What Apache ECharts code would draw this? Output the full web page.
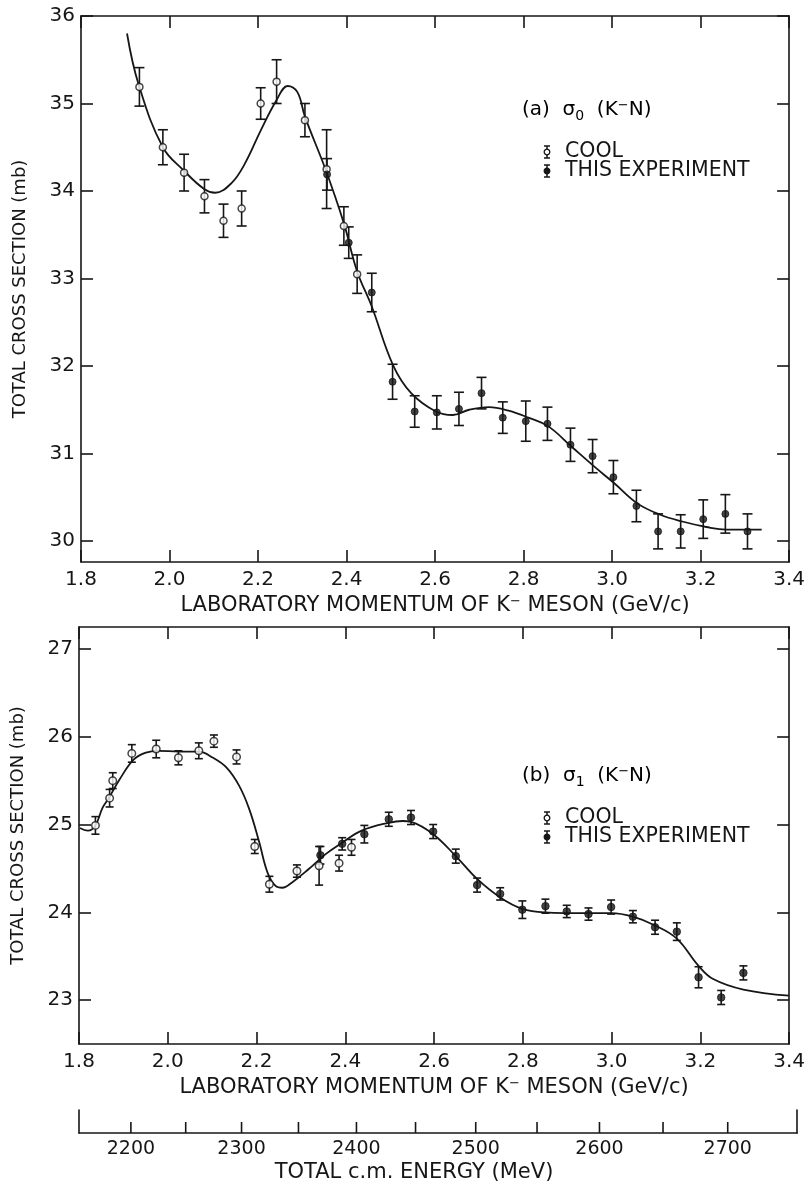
<!DOCTYPE html>
<html><head><meta charset="utf-8">
<script src="https://cdn.jsdelivr.net/npm/echarts@6/dist/echarts.min.js"></script>
<style>html,body{margin:0;padding:0;background:#fff}#c{width:808px;height:1186px}</style>
</head><body><div id="c"></div>
<script>
// ---------- DATA ----------
const xTicks = [1.8, 2.0, 2.2, 2.4, 2.6, 2.8, 3.0, 3.2, 3.4];
const sig0YTicks = [30, 31, 32, 33, 34, 35, 36];
const sig1YTicks = [23, 24, 25, 26, 27];
const energyTicks = [2200, 2250, 2300, 2350, 2400, 2450, 2500, 2550, 2600, 2650, 2700];
const energyLabels = [2200, 2300, 2400, 2500, 2600, 2700];

// (a) sigma_0
const sig0CoolX = [1.932, 1.985, 2.033, 2.079, 2.122, 2.163, 2.206, 2.242, 2.306, 2.355, 2.394, 2.424];
const sig0CoolY = [35.19, 34.50, 34.21, 33.94, 33.66, 33.80, 35.00, 35.25, 34.81, 34.25, 33.60, 33.05];
const sig0CoolErr = [0.22, 0.20, 0.21, 0.19, 0.19, 0.20, 0.18, 0.25, 0.19, 0.45, 0.22, 0.22];
const sig0ExpX = [2.356, 2.405, 2.457, 2.504, 2.554, 2.604, 2.654, 2.705, 2.753, 2.805, 2.854, 2.906, 2.956, 3.003, 3.055, 3.104, 3.155, 3.206, 3.256, 3.306];
const sig0ExpY = [34.19, 33.41, 32.84, 31.82, 31.48, 31.47, 31.51, 31.69, 31.41, 31.37, 31.34, 31.10, 30.97, 30.73, 30.40, 30.11, 30.11, 30.25, 30.31, 30.11];
const sig0ExpErr = [0.18, 0.18, 0.22, 0.20, 0.18, 0.19, 0.19, 0.18, 0.18, 0.23, 0.19, 0.19, 0.19, 0.19, 0.18, 0.20, 0.19, 0.22, 0.22, 0.20];
const sig0CurveX = [1.904, 1.93, 1.985, 2.033, 2.079, 2.103, 2.14, 2.17, 2.206, 2.242, 2.267, 2.289, 2.306, 2.353, 2.394, 2.424, 2.457, 2.505, 2.546, 2.602, 2.64, 2.677, 2.722, 2.766, 2.811, 2.856, 2.908, 2.96, 3.005, 3.057, 3.109, 3.161, 3.213, 3.258, 3.338];
const sig0CurveY = [35.80, 35.22, 34.50, 34.23, 34.02, 33.98, 34.09, 34.31, 34.69, 35.04, 35.20, 35.13, 34.85, 34.24, 33.63, 33.08, 32.68, 32.01, 31.69, 31.48, 31.44, 31.50, 31.53, 31.49, 31.41, 31.31, 31.08, 30.85, 30.66, 30.43, 30.30, 30.22, 30.16, 30.13, 30.13];

// (b) sigma_1
const sig1CoolX = [1.837, 1.869, 1.876, 1.919, 1.974, 2.024, 2.070, 2.104, 2.155, 2.196, 2.229, 2.291, 2.341, 2.386, 2.414];
const sig1CoolY = [24.99, 25.30, 25.50, 25.81, 25.86, 25.76, 25.84, 25.95, 25.77, 24.75, 24.32, 24.47, 24.53, 24.56, 24.74];
const sig1CoolErr = [0.10, 0.10, 0.09, 0.10, 0.10, 0.08, 0.09, 0.07, 0.08, 0.08, 0.09, 0.07, 0.22, 0.09, 0.09];
const sig1ExpX = [2.344, 2.393, 2.443, 2.498, 2.548, 2.598, 2.649, 2.697, 2.749, 2.799, 2.851, 2.899, 2.948, 2.999, 3.048, 3.098, 3.147, 3.196, 3.247, 3.297];
const sig1ExpY = [24.65, 24.78, 24.89, 25.06, 25.08, 24.92, 24.64, 24.31, 24.21, 24.03, 24.07, 24.01, 23.98, 24.06, 23.95, 23.83, 23.78, 23.26, 23.03, 23.31];
const sig1ExpErr = [0.10, 0.07, 0.10, 0.08, 0.08, 0.08, 0.08, 0.08, 0.07, 0.10, 0.08, 0.07, 0.07, 0.08, 0.07, 0.08, 0.10, 0.12, 0.08, 0.08];
const sig1CurveX = [1.802, 1.82, 1.837, 1.853, 1.867, 1.891, 1.923, 1.951, 1.978, 2.025, 2.07, 2.102, 2.132, 2.161, 2.184, 2.206, 2.225, 2.243, 2.258, 2.28, 2.317, 2.355, 2.392, 2.437, 2.498, 2.529, 2.548, 2.598, 2.649, 2.697, 2.749, 2.799, 2.849, 2.947, 2.999, 3.048, 3.098, 3.147, 3.196, 3.229, 3.297, 3.40];
const sig1CurveY = [24.96, 24.93, 24.99, 25.19, 25.30, 25.51, 25.74, 25.82, 25.84, 25.83, 25.83, 25.76, 25.65, 25.44, 25.17, 24.80, 24.45, 24.30, 24.28, 24.34, 24.49, 24.66, 24.79, 24.93, 25.02, 25.04, 25.03, 24.89, 24.64, 24.38, 24.17, 24.04, 24.00, 23.99, 23.99, 23.95, 23.85, 23.70, 23.39, 23.24, 23.12, 23.05];

// ---------- HELPERS ----------
const INK = '#161616';
const FONT = 'DejaVu Sans';
const M_K = 493.7, M_N = 938.9; // MeV
function energyToMomentum(W) {
  const E = (W * W - M_K * M_K - M_N * M_N) / (2 * M_N);
  return Math.sqrt(E * E - M_K * M_K) / 1000;
}
const zip2 = (x, y) => x.map((v, i) => [v, y[i]]);
const zip3 = (x, y, e) => x.map((v, i) => [v, y[i], e[i]]);

function errBar(cap) {
  return function (params, api) {
    const x = api.value(0), y = api.value(1), e = api.value(2);
    const hi = api.coord([x, y + e]), lo = api.coord([x, y - e]);
    const st = { stroke: INK, lineWidth: 1.6 };
    return { type: 'group', children: [
      { type: 'line', shape: { x1: hi[0], y1: hi[1], x2: lo[0], y2: lo[1] }, style: st },
      { type: 'line', shape: { x1: hi[0] - cap, y1: hi[1], x2: hi[0] + cap, y2: hi[1] }, style: st },
      { type: 'line', shape: { x1: lo[0] - cap, y1: lo[1], x2: lo[0] + cap, y2: lo[1] }, style: st }
    ]};
  };
}

function energyTickRender(params, api) {
  const p = api.value(0), W = api.value(1);
  const base = api.coord([p, 0]);
  const children = [{ type: 'line', shape: { x1: base[0], y1: base[1], x2: base[0], y2: base[1] - 11 }, style: { stroke: INK, lineWidth: 1.6 } }];
  if (energyLabels.indexOf(W) >= 0) {
    children.push({ type: 'text', x: base[0], y: base[1] + 7,
      style: { text: String(W), fill: INK, font: '19px ' + FONT, align: 'center', verticalAlign: 'top' } });
  }
  return { type: 'group', children };
}

const axisLine = { show: true, lineStyle: { color: INK, width: 1.6 } };
const labelStyle = { color: INK, fontFamily: FONT, fontSize: 20 };
const supRich = { sup: { fontSize: 13, verticalAlign: 'top', padding: [0, 0, 9, 0], fontFamily: FONT, color: INK } };
const nameStyle = { color: INK, fontFamily: FONT, fontSize: 18, rich: supRich };
const xNameStyle = { color: INK, fontFamily: FONT, fontSize: 21, rich: supRich };
const momName = 'LABORATORY MOMENTUM OF K{sup|−} MESON (GeV/c)';

function xMain(grid, gap) {
  return { type: 'value', gridIndex: grid, min: 1.8, max: 3.4, position: 'bottom',
    axisLine, splitLine: { show: false },
    axisTick: { inside: true, length: 12, lineStyle: { color: INK, width: 1.6 }, customValues: xTicks },
    axisLabel: Object.assign({ customValues: xTicks, margin: 8, formatter: v => v.toFixed(1) }, labelStyle),
    name: momName, nameLocation: 'middle', nameGap: gap, nameTextStyle: xNameStyle };
}
function xTop(grid) {
  return { type: 'value', gridIndex: grid, min: 1.8, max: 3.4, position: 'top',
    axisLine, splitLine: { show: false }, axisLabel: { show: false },
    axisTick: { inside: true, length: 12, lineStyle: { color: INK, width: 1.6 }, customValues: xTicks } };
}
function yMain(grid, min, max, ticks) {
  return { type: 'value', gridIndex: grid, min, max, position: 'left', axisLine, splitLine: { show: false },
    axisTick: { inside: true, length: 12, lineStyle: { color: INK, width: 1.6 }, customValues: ticks },
    axisLabel: Object.assign({ customValues: ticks, margin: 6 }, labelStyle),
    name: 'TOTAL CROSS SECTION (mb)', nameLocation: 'middle', nameGap: 52, nameRotate: 90, nameTextStyle: nameStyle };
}
function yRight(grid, min, max, ticks) {
  return { type: 'value', gridIndex: grid, min, max, position: 'right', axisLine, splitLine: { show: false },
    axisLabel: { show: false },
    axisTick: { inside: true, length: 12, lineStyle: { color: INK, width: 1.6 }, customValues: ticks } };
}

function legendBlock(x, y, letter, sub) {
  const titleRich = {
    t: { fontFamily: FONT, fontSize: 20, color: INK },
    g: { fontFamily: FONT, fontSize: 20, color: INK },
    sub: { fontFamily: FONT, fontSize: 14, color: INK, padding: [12, 0, 0, 0] },
    sup: { fontFamily: FONT, fontSize: 13, color: INK, padding: [0, 0, 9, 0] }
  };
  const icon = (cx, cy, open) => ({ type: 'group', x: cx, y: cy, children: [
    { type: 'line', shape: { x1: 0, y1: -6, x2: 0, y2: 6 }, style: { stroke: INK, lineWidth: 1.5 } },
    { type: 'line', shape: { x1: -3, y1: -6, x2: 3, y2: -6 }, style: { stroke: INK, lineWidth: 1.5 } },
    { type: 'line', shape: { x1: -3, y1: 6, x2: 3, y2: 6 }, style: { stroke: INK, lineWidth: 1.5 } },
    { type: 'circle', shape: { cx: 0, cy: 0, r: 2.8 }, style: { fill: open ? '#fff' : INK, stroke: INK, lineWidth: 1.3 } }
  ]});
  return [
    { type: 'text', x: x, y: y, style: { text: '{t|(' + letter + ')  }{g|σ}{sub|' + sub + '}{t|  (K}{sup|−}{t|N)}', rich: titleRich, verticalAlign: 'middle' } },
    icon(x + 25, y + 42, true),
    { type: 'text', x: x + 43, y: y + 42, style: { text: 'COOL', font: '20.5px ' + FONT, fill: INK, verticalAlign: 'middle' } },
    icon(x + 25, y + 61, false),
    { type: 'text', x: x + 43, y: y + 61, style: { text: 'THIS EXPERIMENT', font: '20.5px ' + FONT, fill: INK, verticalAlign: 'middle' } }
  ];
}

const openStyle = { color: '#fff', borderColor: INK, borderWidth: 1.5 };
const fullStyle = { color: INK, borderColor: INK, borderWidth: 1 };

const option = {
  backgroundColor: '#fff',
  animation: false,
  grid: [
    { left: 81, top: 16, width: 716, height: 546 },
    { left: 79, top: 627, width: 718, height: 417 },
    { left: 79, top: 1110, width: 718, height: 23 }
  ],
  xAxis: [
    xMain(0, 33), xTop(0),
    xMain(1, 33), xTop(1),
    { type: 'value', gridIndex: 2, min: 1.8, max: 3.4, position: 'bottom', axisLine,
      axisTick: { show: false }, axisLabel: { show: false }, splitLine: { show: false },
      name: 'TOTAL c.m. ENERGY (MeV)', nameLocation: 'middle', nameGap: 29,
      nameTextStyle: { color: INK, fontFamily: FONT, fontSize: 21, padding: [0, 48, 0, 0] } }
  ],
  yAxis: [
    yMain(0, 29.76, 36, sig0YTicks), yRight(0, 29.76, 36, sig0YTicks),
    yMain(1, 22.5, 27.25, sig1YTicks), yRight(1, 22.5, 27.25, sig1YTicks),
    { type: 'value', gridIndex: 2, min: 0, max: 1, position: 'left', axisLine, axisTick: { show: false }, axisLabel: { show: false }, splitLine: { show: false } },
    { type: 'value', gridIndex: 2, min: 0, max: 1, position: 'right', axisLine, axisTick: { show: false }, axisLabel: { show: false }, splitLine: { show: false } }
  ],
  series: [
    { type: 'line', name: 'fit a', xAxisIndex: 0, yAxisIndex: 0, data: zip2(sig0CurveX, sig0CurveY), smooth: 0.4, showSymbol: false, lineStyle: { color: INK, width: 1.8 }, z: 2 },
    { type: 'custom', name: 'COOL err a', xAxisIndex: 0, yAxisIndex: 0, data: zip3(sig0CoolX, sig0CoolY, sig0CoolErr), renderItem: errBar(5), z: 3 },
    { type: 'custom', name: 'EXP err a', xAxisIndex: 0, yAxisIndex: 0, data: zip3(sig0ExpX, sig0ExpY, sig0ExpErr), renderItem: errBar(5), z: 3 },
    { type: 'scatter', name: 'COOL', xAxisIndex: 0, yAxisIndex: 0, data: zip2(sig0CoolX, sig0CoolY), symbol: 'circle', symbolSize: 7, itemStyle: openStyle, z: 4 },
    { type: 'scatter', name: 'THIS EXPERIMENT', xAxisIndex: 0, yAxisIndex: 0, data: zip2(sig0ExpX, sig0ExpY), symbol: 'circle', symbolSize: 7, itemStyle: fullStyle, z: 4 },

    { type: 'line', name: 'fit b', xAxisIndex: 2, yAxisIndex: 2, data: zip2(sig1CurveX, sig1CurveY), smooth: 0.4, showSymbol: false, lineStyle: { color: INK, width: 1.8 }, z: 2 },
    { type: 'custom', name: 'COOL err b', xAxisIndex: 2, yAxisIndex: 2, data: zip3(sig1CoolX, sig1CoolY, sig1CoolErr), renderItem: errBar(4), z: 3 },
    { type: 'custom', name: 'EXP err b', xAxisIndex: 2, yAxisIndex: 2, data: zip3(sig1ExpX, sig1ExpY, sig1ExpErr), renderItem: errBar(4), z: 3 },
    { type: 'scatter', name: 'COOL b', xAxisIndex: 2, yAxisIndex: 2, data: zip2(sig1CoolX, sig1CoolY), symbol: 'circle', symbolSize: 7.5, itemStyle: openStyle, z: 4 },
    { type: 'scatter', name: 'EXP b', xAxisIndex: 2, yAxisIndex: 2, data: zip2(sig1ExpX, sig1ExpY), symbol: 'circle', symbolSize: 7.5, itemStyle: fullStyle, z: 4 },

    { type: 'custom', name: 'energy ticks', xAxisIndex: 4, yAxisIndex: 4, clip: false,
      data: energyTicks.map(W => [energyToMomentum(W), W]), renderItem: energyTickRender }
  ],
  graphic: [].concat(legendBlock(522, 110, 'a', '0'), legendBlock(522, 776, 'b', '1'))
};

const chart = echarts.init(document.getElementById('c'), null, { renderer: 'canvas' });
chart.setOption(option);
</script>
</body></html>
